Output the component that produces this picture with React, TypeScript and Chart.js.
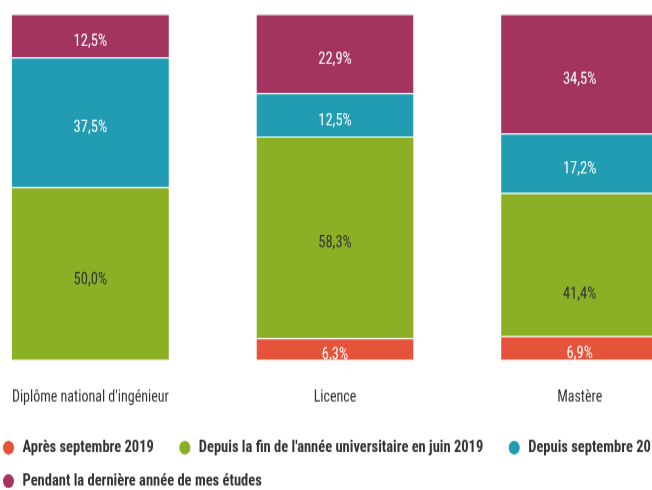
import React, { useEffect, useRef } from 'react';
import { Chart, registerables } from 'chart.js';

Chart.register(...registerables);

const categories = ["Diplôme national d'ingénieur", 'Licence', 'Mastère'];
const seriesNames = [
  'Après septembre 2019',
  "Depuis la fin de l'année universitaire en juin 2019",
  'Depuis septembre 2019',
  'Pendant la dernière année de mes études',
];
const apresSept2019 = [0, 6.3, 6.9];
const depuisFinAnnee = [50.0, 58.3, 41.4];
const depuisSept2019 = [37.5, 12.5, 17.2];
const pendantDerniereAnnee = [12.5, 22.9, 34.5];
const seriesColors = ['#E4533A', '#8CB025', '#219CB2', '#A2345F'];
const valueLabelColors = ['#ffffff', '#333333', '#ffffff', '#ffffff'];

const FONT = "'Liberation Sans Narrow', 'Arial Narrow', 'Roboto Condensed', 'DejaVu Sans Condensed', sans-serif";

const CANVAS_W = 734;
const CANVAS_H = 438;
const STRETCH = 490 / CANVAS_H;

const valueLabelsPlugin = {
  id: 'valueLabels',
  afterDatasetsDraw(chart: any, _args: any, opts: any) {
    const ctx = chart.ctx;
    const area = chart.chartArea;
    ctx.save();
    ctx.beginPath();
    ctx.rect(area.left, area.top, area.right - area.left, area.bottom - area.top);
    ctx.clip();
    ctx.font = `${opts.size}px ${FONT}`;
    ctx.textAlign = 'center';
    ctx.textBaseline = 'middle';
    chart.data.datasets.forEach((ds: any, di: number) => {
      const meta = chart.getDatasetMeta(di);
      meta.data.forEach((bar: any, i: number) => {
        const v = ds.data[i];
        if (!v) return;
        const p = bar.getProps(['x', 'y', 'base'], true);
        const extra = (opts.extraOffsets && opts.extraOffsets[`${di}-${i}`]) || 0;
        const cy = (p.y + p.base) / 2 + opts.offsetY + extra;
        ctx.fillStyle = opts.colors[di];
        ctx.fillText(v.toFixed(1).replace('.', ',') + '%', p.x, cy);
      });
    });
    ctx.restore();
  },
};

const customLegendPlugin = {
  id: 'customLegend',
  afterDraw(chart: any, _args: any, opts: any) {
    const ctx = chart.ctx;
    ctx.save();
    ctx.font = `bold ${opts.size}px ${FONT}`;
    ctx.textBaseline = 'middle';
    ctx.textAlign = 'left';
    let x = opts.startX;
    let row = 0;
    chart.data.datasets.forEach((ds: any) => {
      const tw = ctx.measureText(ds.label).width;
      const itemW = opts.textOffset + tw;
      if (x > opts.startX && x + itemW > opts.maxRight) {
        row += 1;
        x = opts.startX;
      }
      const cy = chart.chartArea.bottom + opts.firstRow + row * opts.rowStep;
      ctx.fillStyle = ds.backgroundColor;
      ctx.beginPath();
      ctx.ellipse(x + opts.markerRx, cy, opts.markerRx, opts.markerRy, 0, 0, Math.PI * 2);
      ctx.fill();
      ctx.fillStyle = '#333333';
      ctx.fillText(ds.label, x + opts.textOffset, cy);
      x += itemW + opts.itemGap;
    });
    ctx.restore();
  },
};

export default function App() {
  const canvasRef = useRef<HTMLCanvasElement | null>(null);

  useEffect(() => {
    if (!canvasRef.current) return;
    const seriesData = [apresSept2019, depuisFinAnnee, depuisSept2019, pendantDerniereAnnee];
    const chart = new Chart(canvasRef.current, {
      type: 'bar',
      data: {
        labels: categories,
        datasets: seriesNames.map((name, i) => ({
          label: name,
          data: seriesData[i],
          backgroundColor: seriesColors[i],
          borderColor: 'rgba(255,255,255,0.55)',
          borderWidth: { top: 1, right: 0, bottom: 0, left: 0 },
          borderSkipped: false,
          categoryPercentage: 1,
          barPercentage: 0.642,
        })),
      },
      options: {
        responsive: false,
        animation: false,
        layout: { padding: { left: 0, right: 0, top: 12.5, bottom: 49.8 } },
        plugins: {
          legend: { display: false },
          tooltip: { enabled: false },
          valueLabels: {
            size: 14.5,
            offsetY: 5.4,
            colors: valueLabelColors,
            extraOffsets: { '1-2': 22 },
          },
          customLegend: {
            size: 14.5,
            startX: 35,
            maxRight: 800,
            textOffset: 19.5,
            itemGap: 25.5,
            markerRx: 5.5,
            markerRy: 6.25,
            firstRow: 78.4,
            rowStep: 29.9,
          },
        } as any,
        scales: {
          x: {
            stacked: true,
            grid: { display: false, drawTicks: false },
            border: { display: false },
            ticks: {
              padding: 24.8,
              color: '#333333',
              maxRotation: 0,
              autoSkip: false,
              font: { family: FONT, size: 14 },
            },
          },
          y: { stacked: true, display: false, min: 0, max: 100 },
        },
      },
      plugins: [valueLabelsPlugin, customLegendPlugin],
    });
    return () => chart.destroy();
  }, []);

  return (
    <div style={{ position: 'fixed', left: 0, top: 0, width: 652, height: 490, overflow: 'hidden', background: '#ffffff' }}>
      <div
        style={{
          position: 'absolute',
          left: -32,
          top: 0,
          width: CANVAS_W,
          height: CANVAS_H,
          transform: `scaleY(${STRETCH})`,
          transformOrigin: '0 0',
        }}
      >
        <canvas ref={canvasRef} width={CANVAS_W} height={CANVAS_H} style={{ display: 'block' }} />
      </div>
    </div>
  );
}
